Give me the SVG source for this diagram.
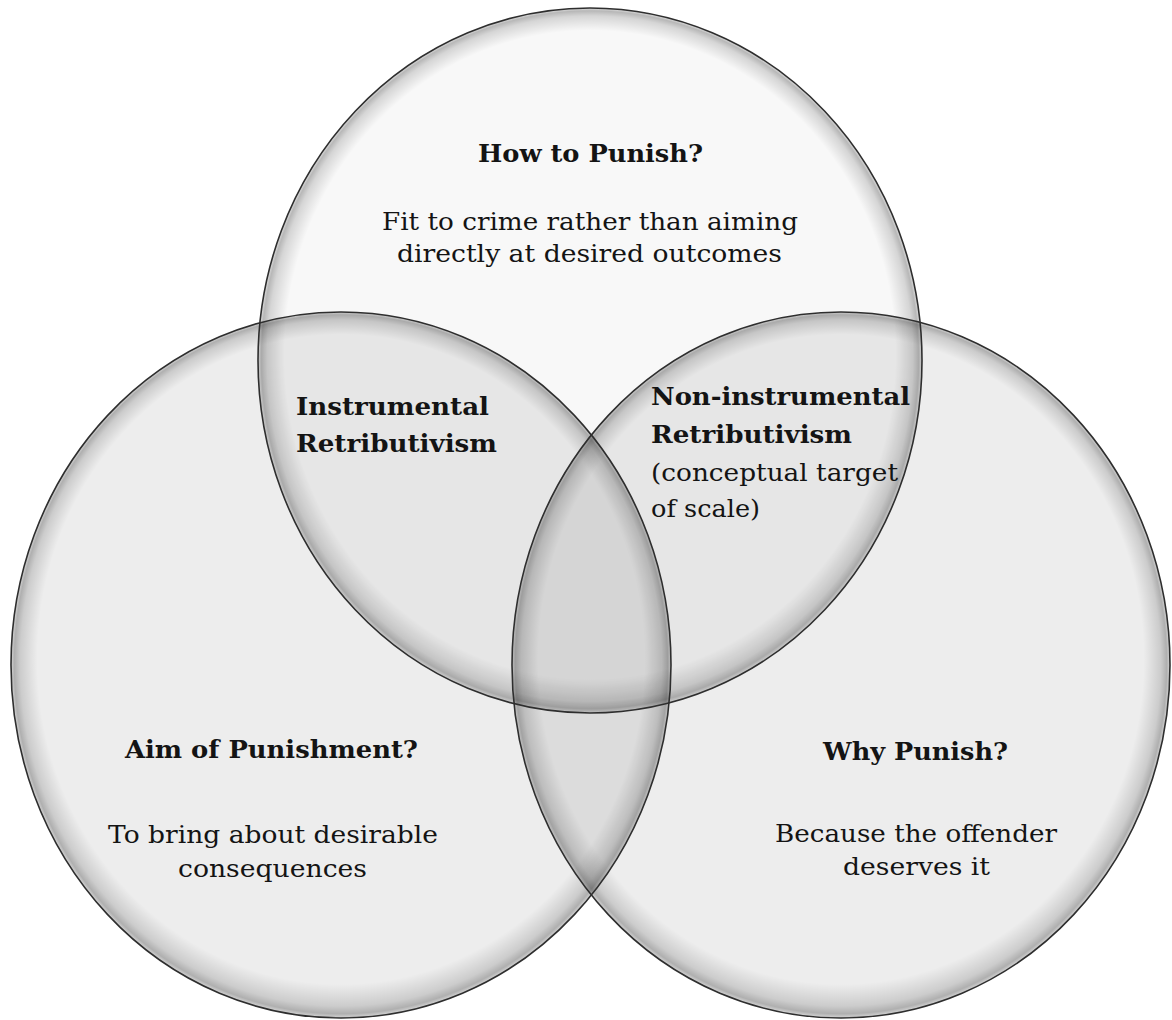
<svg xmlns="http://www.w3.org/2000/svg" width="1172" height="1020" viewBox="0 0 1172 1020">
<defs>
<radialGradient id="bevel" cx="0.5" cy="0.5" r="0.5" fx="0.5" fy="0.4">
<stop offset="0" stop-color="#000" stop-opacity="0"/>
<stop offset="0.92" stop-color="#000" stop-opacity="0"/>
<stop offset="0.972" stop-color="#000" stop-opacity="0.14"/>
<stop offset="0.99" stop-color="#000" stop-opacity="0.26"/>
<stop offset="1" stop-color="#000" stop-opacity="0.1"/>
</radialGradient>
<style>
.side{fill:#000;fill-opacity:0.072}
.topc{fill:#000;fill-opacity:0.028}
.edge{fill:none;stroke:#2e2e2e;stroke-width:1.6}
.bev{fill:url(#bevel);stroke:none}
text{font-family:"DejaVu Serif","Liberation Serif",serif;font-size:25px;fill:#141414}
.h{font-weight:bold}
</style>
</defs>
<rect width="1172" height="1020" fill="#ffffff"/>
<g id="how-to-punish">
<ellipse class="topc" cx="590" cy="360.5" rx="332" ry="352.5"/>
<ellipse class="bev" cx="590" cy="360.5" rx="332" ry="352.5"/>
<text class="h" x="478" y="162" textLength="225" lengthAdjust="spacingAndGlyphs">How to Punish?</text>
<text x="382" y="230" textLength="416" lengthAdjust="spacingAndGlyphs">Fit to crime rather than aiming</text>
<text x="397" y="262" textLength="385" lengthAdjust="spacingAndGlyphs">directly at desired outcomes</text>
</g>
<g id="aim-of-punishment">
<ellipse class="side" cx="341" cy="665" rx="330" ry="353"/>
<ellipse class="bev" cx="341" cy="665" rx="330" ry="353"/>
<text class="h" x="125" y="758" textLength="293" lengthAdjust="spacingAndGlyphs">Aim of Punishment?</text>
<text x="108" y="843" textLength="330" lengthAdjust="spacingAndGlyphs">To bring about desirable</text>
<text x="178" y="877" textLength="189" lengthAdjust="spacingAndGlyphs">consequences</text>
</g>
<g id="why-punish">
<ellipse class="side" cx="841" cy="665" rx="329" ry="353"/>
<ellipse class="bev" cx="841" cy="665" rx="329" ry="353"/>
<text class="h" x="823" y="760" textLength="185" lengthAdjust="spacingAndGlyphs">Why Punish?</text>
<text x="775" y="842" textLength="282" lengthAdjust="spacingAndGlyphs">Because the offender</text>
<text x="843" y="875" textLength="147" lengthAdjust="spacingAndGlyphs">deserves it</text>
</g>
<g id="outlines">
<ellipse class="edge" cx="590" cy="360.5" rx="332" ry="352.5"/>
<ellipse class="edge" cx="341" cy="665" rx="330" ry="353"/>
<ellipse class="edge" cx="841" cy="665" rx="329" ry="353"/>
</g>
<g id="instrumental-retributivism">
<text class="h" x="296" y="415" textLength="193" lengthAdjust="spacingAndGlyphs">Instrumental</text>
<text class="h" x="296" y="452" textLength="201" lengthAdjust="spacingAndGlyphs">Retributivism</text>
</g>
<g id="non-instrumental-retributivism">
<text class="h" x="651" y="405" textLength="259" lengthAdjust="spacingAndGlyphs">Non-instrumental</text>
<text class="h" x="651" y="443" textLength="201" lengthAdjust="spacingAndGlyphs">Retributivism</text>
<text x="651" y="481" textLength="247" lengthAdjust="spacingAndGlyphs">(conceptual target</text>
<text x="651" y="517" textLength="109" lengthAdjust="spacingAndGlyphs">of scale)</text>
</g>
</svg>
